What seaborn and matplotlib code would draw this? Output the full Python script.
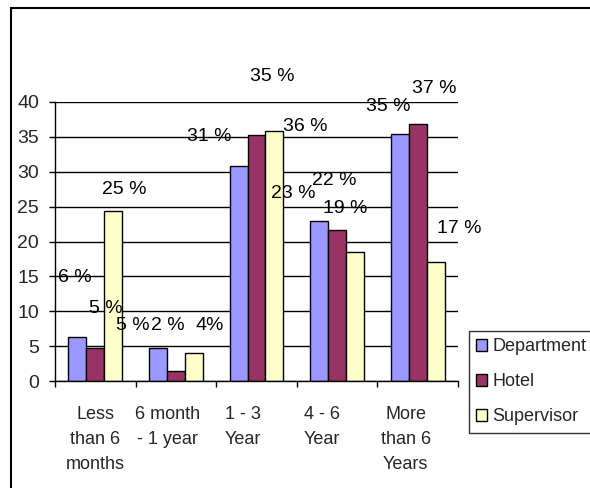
import matplotlib
matplotlib.use("Agg")
import matplotlib.pyplot as plt
import matplotlib.transforms as mtransforms
import seaborn as sns
import pandas as pd
from matplotlib.patches import Rectangle

categories = ["Less\nthan 6\nmonths", "6 month\n- 1 year", "1 - 3\nYear", "4 - 6\nYear", "More\nthan 6\nYears"]
series = ["Department", "Hotel", "Supervisor"]
department = [6.3, 4.7, 30.8, 23.0, 35.4]
hotel = [4.8, 1.4, 35.3, 21.6, 36.8]
supervisor = [24.4, 4.0, 35.9, 18.5, 17.1]
labels_dept = ["6 %", "5 %", "31 %", "23 %", "35 %"]
labels_hotel = ["5 %", "2 %", "35 %", "22 %", "37 %"]
labels_sup = ["25 %", "4%", "36 %", "19 %", "17 %"]
colors = ["#9999FF", "#993366", "#FFFFCC"]

# label anchor positions (Excel placed them oddly), in category/data units
lab_x = [[-0.26, 0.46, 1.41, 2.45, 3.63],
         [0.13, 0.90, 2.19, 2.96, 4.20],
         [0.36, 1.42, 2.60, 3.10, 4.52]]
lab_y = [[14.9, 7.9, 35.1, 26.9, 39.4],
         [10.4, 7.9, 43.7, 28.8, 42.0],
         [27.4, 7.9, 36.5, 24.8, 21.8]]
# horizontal pixel shifts of the category labels (Excel wrapping)
xlabel_shift_px = [0, -8, -14, -15, -12]

rows = []
for vals, s in zip([department, hotel, supervisor], series):
    for c, v in zip(categories, vals):
        rows.append({"cat": c, "series": s, "value": v})
df = pd.DataFrame(rows)

sns.set_style("white")
plt.rcParams["font.family"] = ["Liberation Sans", "DejaVu Sans"]

fig = plt.figure(figsize=(5.9, 4.88), dpi=100)
ax = fig.add_axes([55/590, 1-381/488, (458-55)/590, (381-102)/488])

sns.barplot(data=df, x="cat", y="value", hue="series", palette=colors,
            width=2/3, gap=0, edgecolor="black", linewidth=1, ax=ax,
            order=categories, hue_order=series, saturation=1)

ax.set_ylim(0, 40)
ax.set_xlim(-0.5, 4.5)
ax.set_yticks(range(0, 41, 5))
ax.yaxis.grid(True, color="black", linewidth=1)
ax.set_axisbelow(True)
ax.set_xlabel("")
ax.set_ylabel("")
for sp in ["top", "right"]:
    ax.spines[sp].set_visible(False)
for sp in ["left", "bottom"]:
    ax.spines[sp].set_color("black")
    ax.spines[sp].set_linewidth(1)

ax.tick_params(axis="y", direction="out", length=4.5, width=1, color="black",
               labelsize=14, pad=7, left=True)
ax.set_xticks(range(5))
ax.set_xticklabels(categories, fontsize=13, linespacing=1.62)
ax.tick_params(axis="x", length=0, pad=18)
ax.set_xticks([i - 0.5 for i in range(6)], minor=True)
ax.tick_params(axis="x", which="minor", direction="out", length=4.5, width=1,
               color="black", bottom=True)
for lbl, dx in zip(ax.get_xticklabels(), xlabel_shift_px):
    lbl.set_transform(lbl.get_transform() +
                      mtransforms.ScaledTranslation(dx / 100, 0, fig.dpi_scale_trans))

all_labels = [labels_dept, labels_hotel, labels_sup]
for si in range(3):
    for ci in range(5):
        ax.text(lab_x[si][ci], lab_y[si][ci], all_labels[si][ci], ha="center",
                va="center", fontsize=14, color="black", clip_on=False)

handles, labs = ax.get_legend_handles_labels()
if ax.get_legend() is not None:
    ax.get_legend().remove()
leg = fig.legend(handles, labs, loc="upper left",
                 bbox_to_anchor=(469/590, 1-331/488, 0.3, 0.0),
                 bbox_transform=fig.transFigure, mode="expand",
                 fontsize=13, frameon=True, fancybox=False, shadow=False,
                 handlelength=0.6, handleheight=0.6, handletextpad=0.3,
                 labelspacing=1.0, borderpad=0.4, borderaxespad=0)
leg.get_frame().set_edgecolor("black")
leg.get_frame().set_linewidth(1)
for h in leg.legend_handles:
    h.set_edgecolor("black")
    h.set_linewidth(1)

fig.patches.append(Rectangle((11/590, -0.1), 1.2, 1 - 8/488 + 0.1,
                             transform=fig.transFigure, fill=False,
                             edgecolor="black", linewidth=1.5))

fig.savefig("out.png", dpi=100)
